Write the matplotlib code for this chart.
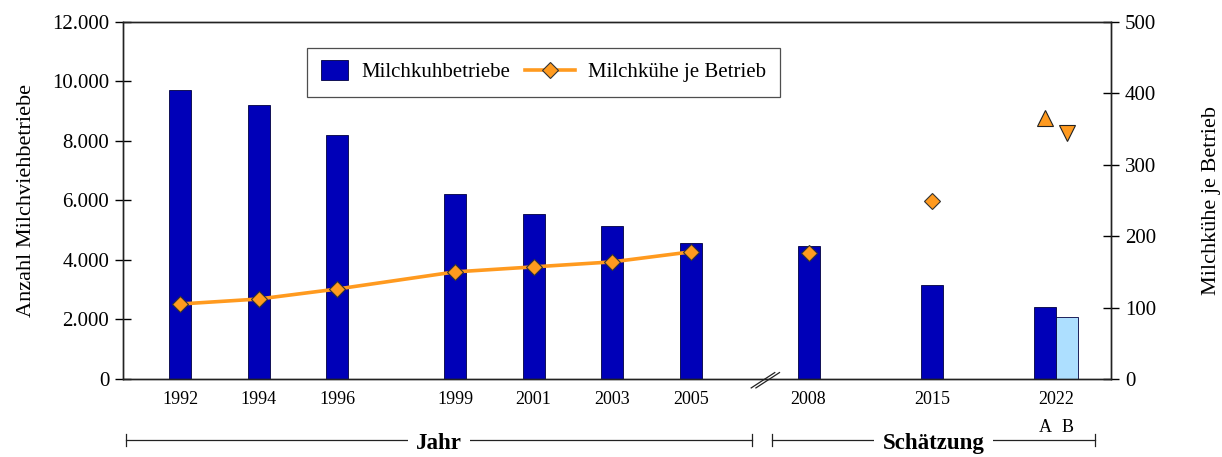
import matplotlib
matplotlib.use("Agg")
import matplotlib.pyplot as plt
from matplotlib.lines import Line2D
from matplotlib.patches import Patch, Rectangle
from matplotlib.legend_handler import HandlerPatch, HandlerLine2D
from matplotlib.ticker import FuncFormatter

plt.rcParams['font.family'] = ['Liberation Serif', 'DejaVu Serif']
plt.rcParams['font.size'] = 12.5

# Milchkuhbetriebe (Balken) und Milchkühe je Betrieb (Punkte)
jahre = [1992, 1994, 1996, 1999, 2001, 2003, 2005, 2008, 2015]
betriebe = [9700, 9200, 8200, 6220, 5550, 5150, 4570, 4470, 3160]
kuehe_je_betrieb = [105, 112, 126, 150, 157, 164, 178, 176, 249]

# Schätzung 2022, Varianten A und B
varianten = ['A', 'B']
betriebe_2022 = [2420, 2080]
kuehe_2022 = [365, 344]

jahr_labels = ['1992', '1994', '1996', '1999', '2001', '2003', '2005', '2008', '2015', '2022']

blau = '#0000B8'
hellblau = '#ADDFFF'
orange = '#FF9A1F'


def xpos(jahr):
    # nach 2008 ist die Zeitachse gestaucht (Achsenbruch)
    if jahr <= 2008:
        return jahr
    return 2008 + (jahr - 2008) * 0.45


def kleines_rechteck(legend, orig_handle, xdescent, ydescent, width, height, fontsize):
    h = 15
    return Rectangle((-xdescent, -ydescent + (height - h) / 2), width, h)


class BreiteLinie(HandlerLine2D):
    # Legendenlinie ragt nach links über das Symbolfeld hinaus
    extra = 16

    def create_artists(self, legend, orig_handle, xdescent, ydescent, width,
                       height, fontsize, trans):
        return super().create_artists(legend, orig_handle, xdescent + self.extra,
                                      ydescent, width + self.extra, height,
                                      fontsize, trans)


fig = plt.figure(figsize=(12.22, 4.57), dpi=100)
ax = fig.add_axes([0.1007, 0.1707, 0.8085, 0.7812])
ax2 = ax.twinx()

xs = [xpos(j) for j in jahre]
x22 = xpos(2022)
bw = 0.56

ax.bar(xs, betriebe, width=bw, color=blau, edgecolor='#000040', linewidth=0.6, zorder=2)
ax.bar([x22 - bw / 2, x22 + bw / 2], betriebe_2022, width=bw,
       color=[blau, hellblau], edgecolor='#000040', linewidth=0.6, zorder=2)

ax.set_xlim(1990.55, 2015.7)
ax.set_ylim(0, 12000)
ax.set_yticks(range(0, 12001, 2000))
ax.yaxis.set_major_formatter(FuncFormatter(lambda v, p: f"{int(v):,}".replace(',', '.')))
ax.set_ylabel('Anzahl Milchviehbetriebe', fontsize=16, labelpad=11.5)

ax.set_xticks([xpos(j) for j in jahre] + [x22])
ax.set_xticklabels(jahr_labels, fontsize=13)
ax.tick_params(axis='x', length=0, pad=9)
ax.tick_params(axis='y', direction='inout', length=12, width=1, labelsize=15, pad=4)

# Linie nur für die erhobenen Jahre bis 2005
ax2.plot(xs[:7], kuehe_je_betrieb[:7], color=orange, lw=2.6, zorder=3)
ax2.plot(xs, kuehe_je_betrieb, ls='none', marker='D', ms=8.5,
         mfc=orange, mec='#333333', mew=0.8, zorder=4)
ax2.plot([x22 - bw / 2], [kuehe_2022[0]], ls='none', marker='^', ms=12,
         mfc=orange, mec='#222222', mew=0.8, zorder=4)
ax2.plot([x22 + bw / 2], [kuehe_2022[1]], ls='none', marker='v', ms=12,
         mfc=orange, mec='#222222', mew=0.8, zorder=4)
ax2.set_ylim(0, 500)
ax2.set_yticks(range(0, 501, 100))
ax2.tick_params(axis='y', direction='inout', length=12, width=1, labelsize=15, pad=4)
ax2.set_ylabel('Milchkühe je Betrieb', fontsize=16, labelpad=33)

for a in (ax, ax2):
    for s in a.spines.values():
        s.set_linewidth(1)
        s.set_color('#222222')

# Achsenbruch
tr = ax.get_xaxis_transform()
xb = 2006.9
for dx in (-0.06, 0.06):
    ax.plot([xb + dx - 0.3, xb + dx + 0.3], [-0.025, 0.018], transform=tr,
            color='#222222', lw=0.9, clip_on=False)

# A / B unter 2022
for x, v in zip([x22 - bw / 2, x22 + bw / 2], varianten):
    ax.text(x, -0.135, v, transform=tr, ha='center', va='center', fontsize=13)

# Klammern unter der Achse
yb = -0.171
for x0, x1, txt in [(1990.63, 2006.55, 'Jahr'), (2007.06, 2015.3, 'Schätzung')]:
    ax.plot([x0, x1], [yb, yb], transform=tr, color='#222222', lw=0.9, clip_on=False)
    for xe in (x0, x1):
        ax.plot([xe, xe], [yb - 0.018, yb + 0.018], transform=tr,
                color='#222222', lw=0.9, clip_on=False)
    ax.text((x0 + x1) / 2, yb - 0.01, txt, transform=tr, ha='center', va='center',
            fontsize=16.5, fontweight='bold',
            bbox=dict(facecolor='white', edgecolor='none', pad=6))

handles = [
    Patch(facecolor=blau, edgecolor='#000040', linewidth=0.6),
    Line2D([], [], color=orange, lw=2.6, marker='D', ms=8.5, mfc=orange, mec='#333333', mew=0.8),
]
leg = ax.legend(handles, ['Milchkuhbetriebe', 'Milchkühe je Betrieb'], ncol=2,
                loc='upper left', bbox_to_anchor=(0.186, 0.927), frameon=True,
                fancybox=False, edgecolor='#222222', fontsize=15,
                handlelength=1.3, handletextpad=0.63, columnspacing=1.78,
                borderpad=0.7, borderaxespad=0,
                handler_map={Patch: HandlerPatch(patch_func=kleines_rechteck),
                             Line2D: BreiteLinie()})
leg.get_frame().set_linewidth(0.9)
leg.set_zorder(5)

fig.savefig('out.png', dpi=100)
